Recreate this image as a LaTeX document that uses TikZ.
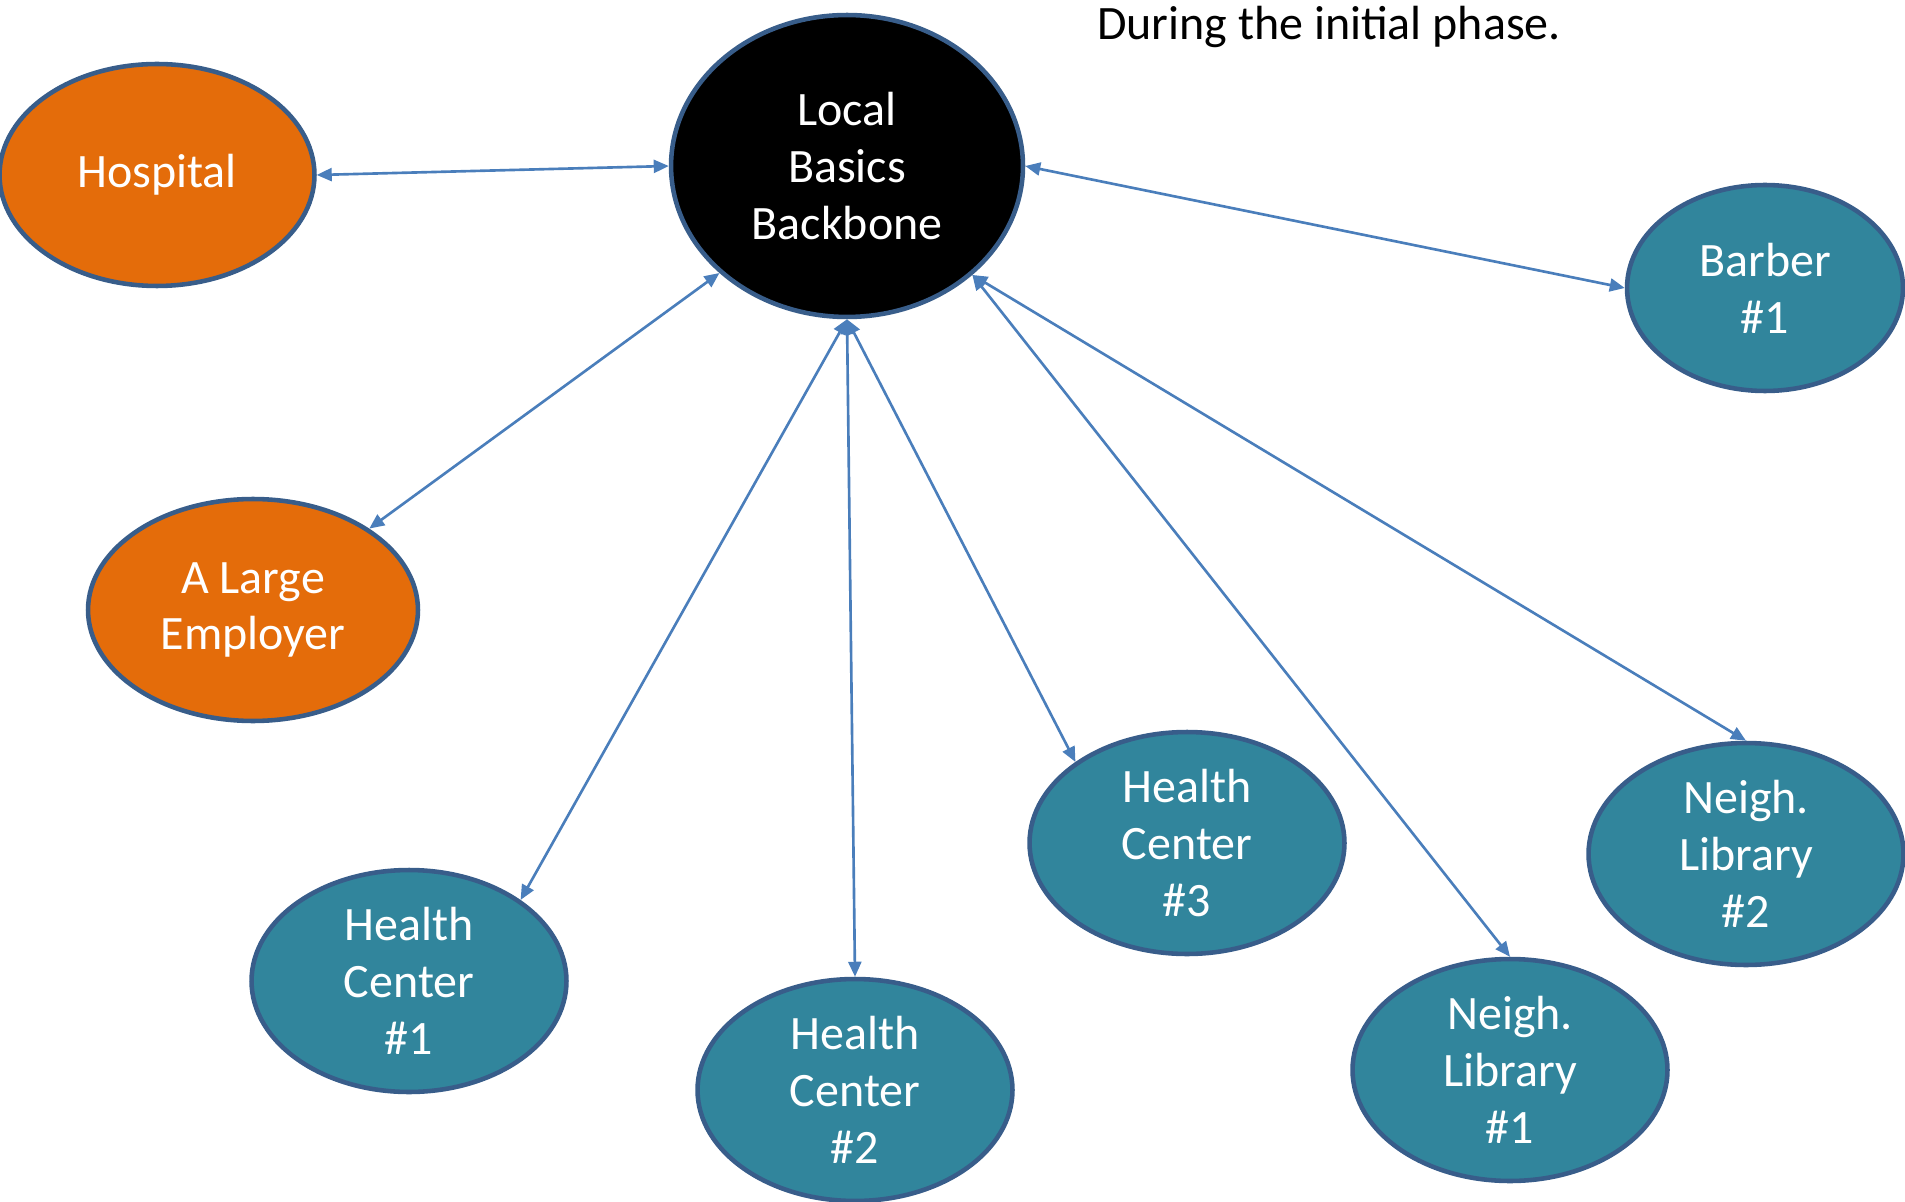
\documentclass[tikz,border=0pt]{standalone}
\usepackage{fontspec}
\setmainfont{Carlito}
\usetikzlibrary{shapes.geometric,arrows.meta}

\definecolor{hubline}{HTML}{385D8A}
\definecolor{linkblue}{HTML}{4A7EBB}
\definecolor{siteorange}{HTML}{E46C0A}
\definecolor{siteteal}{HTML}{31859C}

\begin{document}
\begin{tikzpicture}[
  x=0.02cm, y=-0.02cm,
  site/.style={ellipse, draw=hubline, line width=2.6pt, fill=siteteal,
               text=white, align=center, inner xsep=0pt, inner ysep=-7pt,
               minimum width=6.3cm, minimum height=4.44cm,
               font=\fontsize{27.3pt}{32.4pt}\selectfont},
  big/.style={site, fill=siteorange},
  link/.style={{Triangle[length=0.3cm,width=0.26cm]}-{Triangle[length=0.3cm,width=0.26cm]},
               draw=linkblue, line width=1.5pt}
]
  \useasboundingbox (0,0) rectangle (1905,1202);

  \node[site, fill=black, minimum width=7.04cm, minimum height=6.04cm] (backbone) at (847,166) {Local\\Basics\\Backbone};
  \node[big] (hospital) at (157,175) {Hospital};
  \node[big, minimum width=6.6cm] (employer) at (253,610) {A Large\\Employer};
  \node[site, minimum width=5.52cm, minimum height=4.12cm] (barber) at (1765,288) {Barber\\\#1};
  \node[site] (hc1) at (409,981) {Health\\Center\\\#1};
  \node[site] (hc2) at (855,1090) {Health\\Center\\\#2};
  \node[site] (hc3) at (1187,843) {Health\\Center\\\#3};
  \node[site] (lib1) at (1510,1070) {Neigh.\\Library\\\#1};
  \node[site] (lib2) at (1746,854) {Neigh.\\Library\\\#2};

  \node[font=\fontsize{27.3pt}{32.4pt}\selectfont] (phase) at (1329,27) {During the initial phase.};

  % Links to the backbone
  \draw[link] (hospital.east) -- (backbone.west);
  \draw[link] (employer.35) -- (backbone.-140);
  \draw[link] (barber.west) -- (backbone.east);
  \draw[link] (hc1.36) -- (backbone.south);
  \draw[link] (hc2.north) -- (backbone.south);
  \draw[link] (hc3.144) -- (backbone.south);
  \draw[link] (lib1.north) -- (backbone.-41);
  \draw[link] (lib2.north) -- (backbone.-41);
\end{tikzpicture}
\end{document}
